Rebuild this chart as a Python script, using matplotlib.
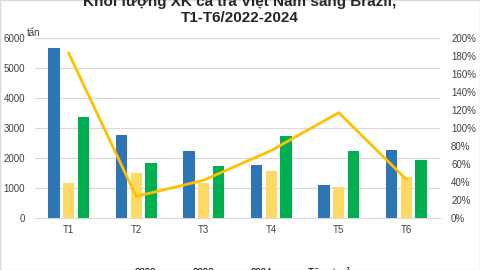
import matplotlib.pyplot as plt
import numpy as np

plt.rcParams['font.family'] = ['Liberation Sans', 'DejaVu Sans']

# data
months = ["T1", "T2", "T3", "T4", "T5", "T6"]
vol_2022 = [5680, 2780, 2230, 1780, 1090, 2260]
vol_2023 = [1180, 1500, 1180, 1560, 1030, 1370]
vol_2024 = [3360, 1840, 1720, 2720, 2230, 1940]
growth = [183, 24, 42, 75, 117, 43]  # percent

c2022 = "#2E75B6"
c2023 = "#FFD966"
c2024 = "#00B050"
cline = "#FFC000"

fig = plt.figure(figsize=(4.8, 2.7), dpi=100)
ax = fig.add_axes([35/480, 1 - 218/270, 405/480, 180/270])
ax2 = ax.twinx()

x = np.arange(len(months))
w = 0.17
step = 0.22
b1 = ax.bar(x - step, vol_2022, w, color=c2022, label="2022", zorder=3)
b2 = ax.bar(x, vol_2023, w, color=c2023, label="2023", zorder=3)
b3 = ax.bar(x + step, vol_2024, w, color=c2024, label="2024", zorder=3)
ln, = ax2.plot(x, growth, color=cline, lw=2, label="Tăng trưởng", zorder=4)

ax.set_xlim(-0.5, len(months) - 0.5)
ax.set_ylim(0, 6000)
ax.set_yticks(range(0, 6001, 1000))
ax2.set_ylim(0, 200)
ax2.set_yticks(range(0, 201, 20))
ax2.set_yticklabels([f"{v}%" for v in range(0, 201, 20)])
ax.set_xticks(x)
ax.set_xticklabels(months)

ax.grid(axis="y", color="#D9D9D9", lw=0.8, zorder=0)
for a in (ax, ax2):
    for s in a.spines.values():
        s.set_visible(False)
    a.tick_params(length=0, labelsize=7, colors="#404040")
ax.spines["bottom"].set_visible(True)
ax.spines["bottom"].set_color("#D9D9D9")
ax.tick_params(axis="y", pad=7)
ax2.tick_params(axis="y", pad=8)
ax.tick_params(axis="x", pad=5)

fig.text(27/480, 1 - 33/270, "tấn", fontsize=7, color="#404040", ha="left", va="center")

fig.text(0.5, 1 - 10/270, "Khối lượng XK cá tra Việt Nam sang Brazil,\nT1-T6/2022-2024",
         ha="center", va="center", fontsize=11, fontweight="bold", color="#262626",
         linespacing=1.15)

fig.legend(handles=[b1, b2, b3, ln], loc="center", bbox_to_anchor=(237/480, 1 - 273/270),
           ncol=4, frameon=False, fontsize=7, handlelength=2.0, handletextpad=0.35,
           columnspacing=1.4)

fig.patches.append(plt.Rectangle((0, 0), 1, 1, transform=fig.transFigure,
                                 fill=False, edgecolor="#D9D9D9", lw=1))

fig.savefig("out.png", dpi=100)
